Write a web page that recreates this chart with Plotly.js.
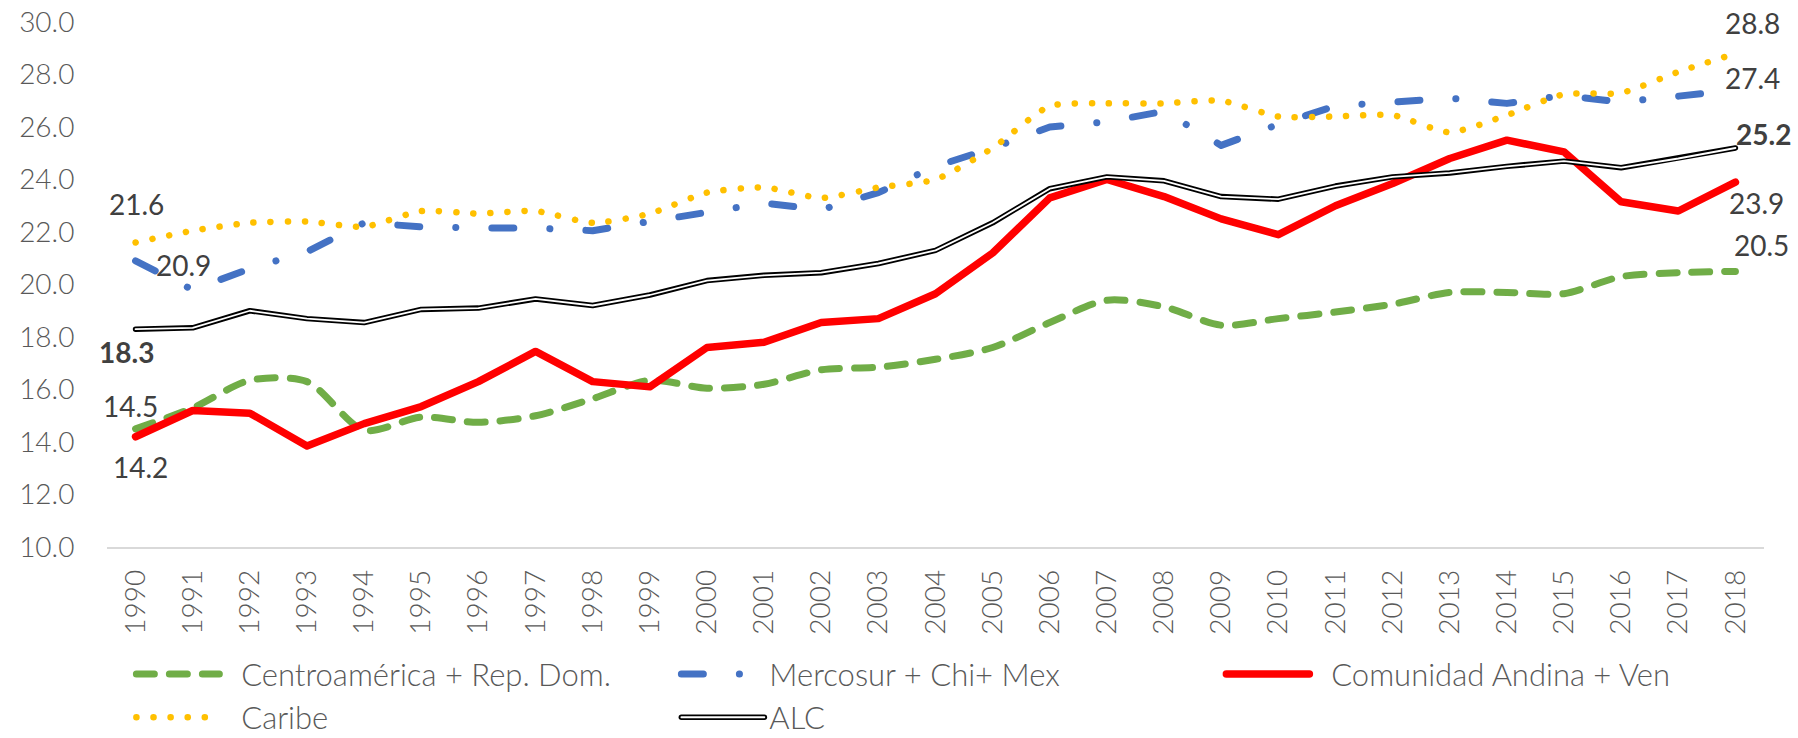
<!DOCTYPE html>
<html>
<head>
<meta charset="utf-8">
<script src="https://cdn.plot.ly/plotly-3.0.1.min.js"></script>
<style>
  html, body { margin: 0; padding: 0; background: #fff; }
  #chart { width: 1798px; height: 738px; }
  path.js-line { stroke-linecap: round !important; stroke-linejoin: round !important; }
</style>
</head>
<body>
<div id="chart"></div>
<script>
const years = ["1990","1991","1992","1993","1994","1995","1996","1997","1998","1999",
  "2000","2001","2002","2003","2004","2005","2006","2007","2008","2009",
  "2010","2011","2012","2013","2014","2015","2016","2017","2018"];

const centroamerica = [14.5, 15.3, 16.35, 16.3, 14.45, 14.95, 14.75, 15.0, 15.65, 16.35,
  16.05, 16.2, 16.75, 16.85, 17.15, 17.6, 18.55, 19.4, 19.15, 18.45,
  18.7, 18.95, 19.25, 19.7, 19.7, 19.65, 20.3, 20.45, 20.5];

const mercosur = [20.9, 19.8, 20.6, 21.25, 22.35, 22.2, 22.15, 22.15, 22.05, 22.4,
  22.8, 23.1, 22.85, 23.5, 24.5, 25.2, 26.0, 26.2, 26.6, 25.3,
  26.1, 26.8, 26.95, 27.1, 26.9, 27.2, 26.95, 27.2, 27.4];

const andina = [14.2, 15.2, 15.1, 13.85, 14.7, 15.35, 16.3, 17.45, 16.3, 16.1,
  17.6, 17.8, 18.55, 18.7, 19.65, 21.2, 23.3, 24.0, 23.35, 22.5,
  21.9, 23.0, 23.85, 24.8, 25.5, 25.05, 23.15, 22.8, 23.9];

const caribe = [21.6, 22.05, 22.35, 22.4, 22.2, 22.8, 22.7, 22.8, 22.35, 22.7,
  23.5, 23.7, 23.3, 23.7, 24.0, 25.2, 26.8, 26.9, 26.9, 27.0,
  26.4, 26.4, 26.45, 25.8, 26.45, 27.25, 27.3, 28.1, 28.8];

const alc = [18.3, 18.35, 19.0, 18.7, 18.55, 19.05, 19.1, 19.45, 19.2, 19.6,
  20.15, 20.35, 20.45, 20.8, 21.3, 22.35, 23.65, 24.1, 23.95, 23.35,
  23.25, 23.75, 24.1, 24.25, 24.5, 24.7, 24.45, 24.8, 25.2];

const seriesNames = {
  centro: "Centroamérica + Rep. Dom.",
  mercosur: "Mercosur + Chi+ Mex",
  andina: "Comunidad Andina + Ven",
  caribe: "Caribe",
  alc: "ALC"
};

const yTicks = [10, 12, 14, 16, 18, 20, 22, 24, 26, 28, 30];

// which points carry a value label: [series key, year]
const labelled = [
  ["caribe","1990"], ["mercosur","1990"], ["alc","1990"], ["centro","1990"], ["andina","1990"],
  ["caribe","2018"], ["mercosur","2018"], ["alc","2018"], ["andina","2018"], ["centro","2018"]
];

const seriesData = { centro: centroamerica, mercosur: mercosur, andina: andina, caribe: caribe, alc: alc };

// styling for the labels (offsets in px)
const labelStyle = {
  "caribe|1990":   { dx: 1,  dy: 39 },
  "mercosur|1990": { dx: 48, dy: -4 },
  "alc|1990":      { dx: -9, dy: -23, bold: true },
  "centro|1990":   { dx: -5, dy: 23 },
  "andina|1990":   { dx: 5,  dy: -30 },
  "caribe|2018":   { dx: 17, dy: 31 },
  "mercosur|2018": { dx: 17, dy: 12 },
  "alc|2018":      { dx: 28, dy: 14, bold: true },
  "andina|2018":   { dx: 21, dy: -21 },
  "centro|2018":   { dx: 26, dy: 26 }
};

const FONT = "Lato, 'Open Sans', sans-serif";
const PAD2 = "\u00A0\u00A0";

const traces = [
  { x: years, y: centroamerica, name: PAD2 + seriesNames.centro, type: "scatter", mode: "lines",
    line: { color: "#70AD47", width: 7, dash: "18px,15px", shape: "spline", smoothing: 0.8 } },
  { x: years, y: mercosur, name: seriesNames.mercosur, type: "scatter", mode: "lines",
    line: { color: "#4472C4", width: 7, dash: "22px,36px,0.1px,36px" } },
  { x: years, y: andina, name: PAD2 + seriesNames.andina, type: "scatter", mode: "lines",
    line: { color: "#FF0000", width: 7.5 } },
  { x: years, y: caribe, name: PAD2 + seriesNames.caribe, type: "scatter", mode: "lines",
    line: { color: "#FFC000", width: 6.5, dash: "0.1px,17px", shape: "spline", smoothing: 0.6 } },
  { x: years, y: alc, name: seriesNames.alc, type: "scatter", mode: "lines",
    line: { color: "#000000", width: 5.5 } },
  { x: years, y: alc, name: seriesNames.alc, type: "scatter", mode: "lines", showlegend: false,
    hoverinfo: "skip", line: { color: "#FFFFFF", width: 1.8 } }
];

const annotations = labelled.map(([key, yr]) => {
  const idx = years.indexOf(yr);
  const v = seriesData[key][idx];
  const st = labelStyle[key + "|" + yr];
  const txt = v.toFixed(1);
  return {
    x: idx, y: v, xref: "x", yref: "y", showarrow: false,
    text: st.bold ? "<b>" + txt + "</b>" : txt,
    xshift: st.dx, yshift: st.dy,
    font: { family: FONT, size: 28, color: "#404040" }
  };
});

const layout = {
  width: 1798, height: 738,
  margin: { l: 107, r: 34, t: 22, b: 191, autoexpand: false },
  paper_bgcolor: "#ffffff", plot_bgcolor: "#ffffff",
  showlegend: true,
  font: { family: FONT, size: 28, color: "#595959" },
  xaxis: {
    type: "category", range: [-0.5, 28.5], automargin: false,
    tickangle: -90, showgrid: false, zeroline: false,
    showline: true, linecolor: "#D9D9D9", linewidth: 1.5,
    ticks: "outside", ticklen: 10, tickcolor: "rgba(0,0,0,0)",
    tickfont: { family: FONT, size: 28, color: "#595959", weight: 300 }
  },
  yaxis: {
    range: [10, 30], tickvals: yTicks, ticktext: yTicks.map(v => v.toFixed(1)),
    automargin: false,
    showgrid: false, zeroline: false, showline: false,
    ticks: "outside", ticklen: 26, tickcolor: "rgba(0,0,0,0)",
    tickfont: { family: FONT, size: 28, color: "#595959", weight: 300 }
  },
  legend: {
    orientation: "h", x: 0.0147, xanchor: "left", y: -0.191, yanchor: "top",
    font: { family: FONT, size: 31, color: "#595959", weight: 300 },
    itemwidth: 83, entrywidth: 447, entrywidthmode: "pixels",
    bgcolor: "rgba(0,0,0,0)", traceorder: "normal", tracegroupgap: 0
  },
  annotations: annotations
};

Plotly.newPlot("chart", traces, layout, { displayModeBar: false, staticPlot: true }).then(gd => {
  // give the ALC legend sample the same white inner stroke as the plotted double line
  const items = gd.querySelectorAll(".legend .traces");
  items.forEach(item => {
    const t = item.querySelector(".legendtext");
    if (t && t.textContent.trim() === seriesNames.alc) {
      const p = item.querySelector(".legendlines path");
      if (p) {
        const c = p.cloneNode(true);
        c.style.stroke = "#FFFFFF";
        c.style.strokeWidth = "1.8px";
        p.parentNode.appendChild(c);
      }
    }
  });
});
</script>
</body>
</html>
